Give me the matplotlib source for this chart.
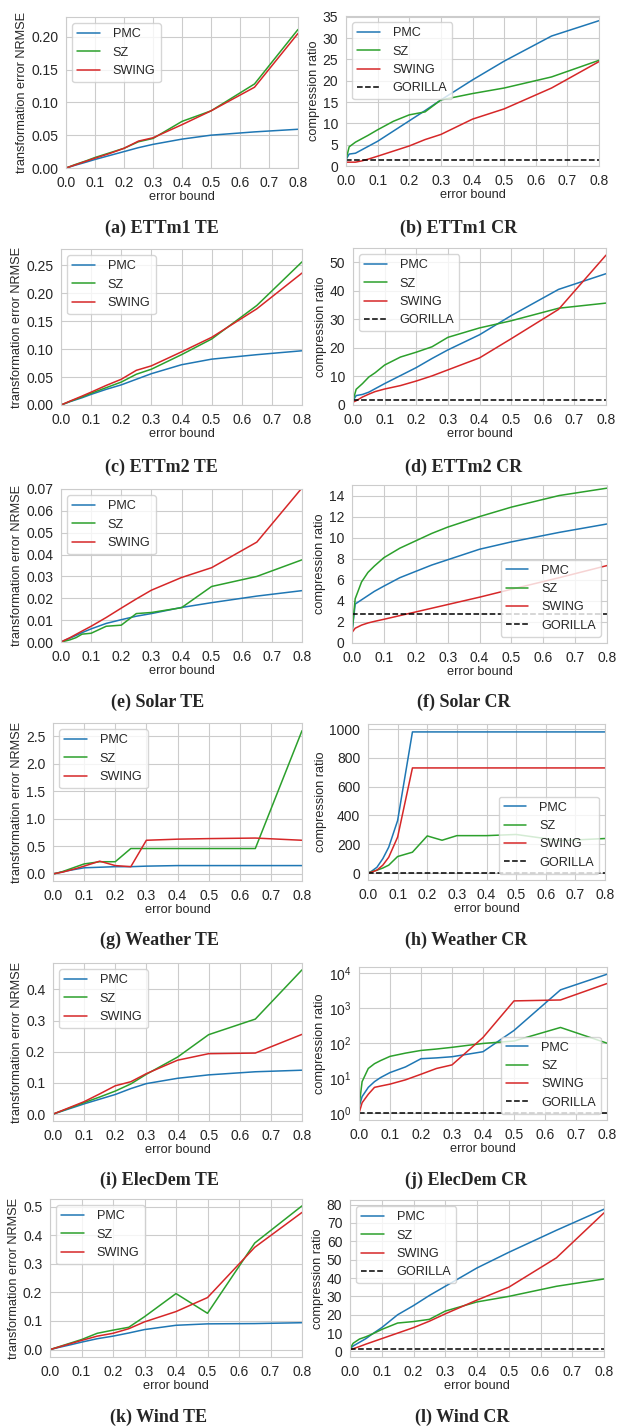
import matplotlib
matplotlib.use("Agg")
import matplotlib.pyplot as plt
import seaborn as sns

sns.set_style("whitegrid")
plt.rcParams['font.family'] = ['Liberation Sans', 'DejaVu Sans']
plt.rcParams['font.size'] = 9.2

# error bounds used in every panel
bounds = [0, 0.01, 0.03, 0.05, 0.07, 0.1, 0.15, 0.2, 0.25, 0.3, 0.4, 0.5, 0.65, 0.8]
xtick_vals = [0.0, 0.1, 0.2, 0.3, 0.4, 0.5, 0.6, 0.7, 0.8]

# (a) ETTm1 TE
pmc_a = [0, 0.0013, 0.004, 0.0065, 0.009, 0.013, 0.019, 0.025, 0.031, 0.036, 0.044, 0.050, 0.055, 0.059]
sz_a = [0, 0.0016, 0.005, 0.008, 0.011, 0.016, 0.023, 0.030, 0.040, 0.045, 0.071, 0.087, 0.128, 0.211]
swing_a = [0, 0.0015, 0.0045, 0.0075, 0.0105, 0.015, 0.022, 0.030, 0.041, 0.046, 0.066, 0.087, 0.123, 0.205]
# (b) ETTm1 CR
pmc_b = [1.5, 2.8, 3.0, 3.8, 4.6, 5.8, 8.2, 10.6, 13.0, 15.5, 20.2, 24.6, 30.5, 34.1]
sz_b = [1.5, 4.5, 5.6, 6.4, 7.2, 8.5, 10.5, 12.0, 12.7, 15.5, 17.0, 18.3, 20.9, 24.8]
swing_b = [0.9, 0.9, 0.9, 1.2, 1.6, 2.3, 3.5, 4.7, 6.2, 7.4, 11.0, 13.4, 18.3, 24.5]
gorilla_b = 1.3
# (c) ETTm2 TE
pmc_c = [0, 0.002, 0.006, 0.0095, 0.013, 0.019, 0.028, 0.036, 0.046, 0.056, 0.072, 0.082, 0.090, 0.097]
sz_c = [0, 0.002, 0.0065, 0.0105, 0.0145, 0.021, 0.031, 0.041, 0.055, 0.064, 0.090, 0.118, 0.178, 0.256]
swing_c = [0, 0.0023, 0.007, 0.0115, 0.016, 0.023, 0.035, 0.046, 0.062, 0.070, 0.095, 0.121, 0.172, 0.236]
# (d) ETTm2 CR
pmc_d = [1.5, 3.3, 3.7, 4.5, 5.7, 7.5, 10.3, 13.1, 16.3, 19.3, 24.6, 31.3, 40.5, 46.0]
sz_d = [1.5, 5.5, 7.5, 9.8, 11.3, 14.0, 16.8, 18.5, 20.4, 23.7, 27.0, 29.5, 33.9, 35.7]
swing_d = [1.0, 1.5, 2.8, 3.8, 4.7, 5.6, 6.8, 8.4, 10.2, 12.3, 16.5, 23.2, 33.5, 52.5]
gorilla_d = 1.8
# (e) Solar TE
pmc_e = [0, 0.0006, 0.0018, 0.003, 0.0043, 0.006, 0.0085, 0.0102, 0.0118, 0.013, 0.0158, 0.018, 0.021, 0.0235]
sz_e = [0, 0.0003, 0.0010, 0.002, 0.0036, 0.0040, 0.0072, 0.0077, 0.013, 0.0135, 0.0157, 0.0254, 0.030, 0.0376]
swing_e = [0, 0.0007, 0.002, 0.0035, 0.005, 0.0072, 0.0112, 0.0155, 0.0197, 0.0237, 0.0295, 0.034, 0.0457, 0.0705]
# (f) Solar CR
pmc_f = [1.0, 3.7, 4.1, 4.5, 4.9, 5.4, 6.2, 6.8, 7.4, 7.9, 8.9, 9.6, 10.5, 11.3]
sz_f = [1.0, 4.2, 5.8, 6.7, 7.3, 8.1, 9.0, 9.7, 10.4, 11.0, 12.0, 12.9, 14.0, 14.7]
swing_f = [1.0, 1.4, 1.7, 1.9, 2.05, 2.25, 2.6, 2.95, 3.3, 3.65, 4.35, 5.1, 6.2, 7.35]
gorilla_f = 2.8
# (g) Weather TE
pmc_g = [0, 0.01, 0.035, 0.06, 0.08, 0.11, 0.12, 0.13, 0.13, 0.14, 0.15, 0.15, 0.15, 0.15]
sz_g = [0, 0.01, 0.04, 0.08, 0.12, 0.18, 0.22, 0.22, 0.46, 0.46, 0.46, 0.46, 0.46, 2.6]
swing_g = [0, 0.01, 0.03, 0.06, 0.09, 0.14, 0.23, 0.15, 0.13, 0.61, 0.63, 0.64, 0.65, 0.61]
# (h) Weather CR
pmc_h = [1, 10, 40, 100, 180, 365, 980, 980, 980, 980, 980, 980, 980, 980]
sz_h = [1, 8, 20, 35, 55, 115, 145, 258, 228, 260, 260, 268, 225, 240]
swing_h = [1, 5, 20, 55, 110, 250, 730, 730, 730, 730, 730, 730, 730, 730]
gorilla_h = 1.5
# (i) ElecDem TE
pmc_i = [0, 0.0033, 0.01, 0.0165, 0.023, 0.033, 0.048, 0.063, 0.082, 0.098, 0.115, 0.126, 0.136, 0.141]
sz_i = [0, 0.0037, 0.011, 0.0185, 0.026, 0.037, 0.055, 0.074, 0.097, 0.128, 0.183, 0.255, 0.305, 0.463]
swing_i = [0, 0.004, 0.012, 0.02, 0.028, 0.040, 0.065, 0.091, 0.104, 0.130, 0.173, 0.194, 0.196, 0.256]
# (j) ElecDem CR (log)
pmc_j = [1.5, 3, 5.5, 8, 10.5, 14.5, 21, 36, 38, 41, 57, 230, 3300, 9200]
sz_j = [1.5, 8, 19, 26, 32, 42, 52, 62, 68, 76, 98, 115, 280, 100]
swing_j = [1, 2, 3.5, 5.5, 6, 6.8, 9, 13, 19, 24, 145, 1600, 1700, 5000]
gorilla_j = 1.05
# (k) Wind TE
pmc_k = [0, 0.0026, 0.008, 0.013, 0.018, 0.026, 0.038, 0.047, 0.058, 0.070, 0.085, 0.090, 0.091, 0.094]
sz_k = [0, 0.0035, 0.0105, 0.0175, 0.0245, 0.035, 0.057, 0.068, 0.078, 0.115, 0.196, 0.127, 0.373, 0.503]
swing_k = [0, 0.0032, 0.0096, 0.016, 0.0224, 0.032, 0.047, 0.057, 0.073, 0.097, 0.133, 0.182, 0.358, 0.480]
# (l) Wind CR
pmc_l = [1.5, 3, 5, 7, 9.5, 13, 20, 25, 30.5, 35.5, 45.5, 54, 66, 77.5]
sz_l = [1.5, 4.5, 6.8, 8, 9.5, 12, 15.5, 16.3, 17.5, 22, 27, 30, 35.5, 39.5]
swing_l = [1.0, 1.5, 2.7, 4, 5.2, 7, 10, 13, 16.5, 20.5, 28, 35, 51, 75.5]
gorilla_l = 1.6

captions = ["(a) ETTm1 TE", "(b) ETTm1 CR", "(c) ETTm2 TE", "(d) ETTm2 CR",
            "(e) Solar TE", "(f) Solar CR", "(g) Weather TE", "(h) Weather CR",
            "(i) ElecDem TE", "(j) ElecDem CR", "(k) Wind TE", "(l) Wind CR"]

W, H = 619, 1427
fig = plt.figure(figsize=(W / 100, H / 100), dpi=100)


def panel(box, cap_xy, cap, pmc, sz, swing, gorilla, ylim, yticks, yfmt, loc, log=False):
    l, r, t, b = box
    ax = fig.add_axes([l / W, 1 - b / H, (r - l) / W, (b - t) / H])
    ax.plot(bounds, pmc, color='tab:blue', lw=1.1, label='PMC')
    ax.plot(bounds, sz, color='tab:green', lw=1.1, label='SZ')
    ax.plot(bounds, swing, color='tab:red', lw=1.1, label='SWING')
    if gorilla is not None:
        ax.plot(bounds, [gorilla] * len(bounds), color='black', ls='--', lw=1.1, label='GORILLA')
        ax.set_ylabel('compression ratio', labelpad=2)
    else:
        ax.set_ylabel('transformation error NRMSE', labelpad=2)
    if log:
        ax.set_yscale('log')
        ax.set_ylim(ylim)
        ax.set_yticks(yticks)
        ax.minorticks_off()
    else:
        ax.set_ylim(ylim)
        ax.set_yticks(yticks)
        ax.set_yticklabels([yfmt % v for v in yticks])
    ax.set_xlim(0, 0.8)
    ax.set_xticks(xtick_vals)
    ax.set_xticklabels(['%.1f' % v for v in xtick_vals])
    ax.set_xlabel('error bound', labelpad=1)
    ax.tick_params(axis='both', pad=2, labelsize=10)
    ax.legend(loc=loc, fontsize=9.1, handlelength=1.8, handletextpad=1.0)
    fig.text(cap_xy[0] / W, 1 - cap_xy[1] / H, cap, ha='center', va='center',
             family=['Liberation Serif', 'DejaVu Serif'], weight='bold', fontsize=13)
    return ax


panel((66, 298, 17, 168), (162, 228), captions[0], pmc_a, sz_a, swing_a, None,
      (0, 0.23), [0, 0.05, 0.10, 0.15, 0.20], '%.2f', 'upper left')
panel((346, 599, 16, 166), (459, 228), captions[1], pmc_b, sz_b, swing_b, gorilla_b,
      (0, 35.2), [0, 5, 10, 15, 20, 25, 30, 35], '%d', 'upper left')
panel((61, 302, 249, 405), (161, 467), captions[2], pmc_c, sz_c, swing_c, None,
      (0, 0.279), [0, 0.05, 0.10, 0.15, 0.20, 0.25], '%.2f', 'upper left')
panel((353, 606, 248, 405), (464, 467), captions[3], pmc_d, sz_d, swing_d, gorilla_d,
      (0, 55), [0, 10, 20, 30, 40, 50], '%d', 'upper left')
panel((61, 302, 489, 642), (158, 702), captions[4], pmc_e, sz_e, swing_e, None,
      (0, 0.07), [0, 0.01, 0.02, 0.03, 0.04, 0.05, 0.06, 0.07], '%.2f', 'upper left')
panel((352, 607, 485, 643), (464, 702), captions[5], pmc_f, sz_f, swing_f, gorilla_f,
      (0, 15), [0, 2, 4, 6, 8, 10, 12, 14], '%d', 'lower right')
panel((53, 302, 723, 881), (160, 940), captions[6], pmc_g, sz_g, swing_g, None,
      (-0.13, 2.74), [0, 0.5, 1.0, 1.5, 2.0, 2.5], '%.1f', 'upper left')
panel((368, 605, 724, 880), (466, 940), captions[7], pmc_h, sz_h, swing_h, gorilla_h,
      (-48, 1035), [0, 200, 400, 600, 800, 1000], '%d', 'lower right')
panel((53, 302, 963, 1121), (160, 1180), captions[8], pmc_i, sz_i, swing_i, None,
      (-0.022, 0.485), [0, 0.1, 0.2, 0.3, 0.4], '%.1f', 'upper left')
panel((359, 607, 967, 1120), (466, 1180), captions[9], pmc_j, sz_j, swing_j, gorilla_j,
      (10 ** -0.19, 10 ** 4.17), [1, 10, 100, 1000, 10000], None, 'lower right', log=True)
panel((50, 302, 1199, 1357), (159, 1417), captions[10], pmc_k, sz_k, swing_k, None,
      (-0.026, 0.527), [0, 0.1, 0.2, 0.3, 0.4, 0.5], '%.1f', 'upper left')
panel((350, 604, 1200, 1357), (462, 1417), captions[11], pmc_l, sz_l, swing_l, gorilla_l,
      (-3, 82.5), [0, 10, 20, 30, 40, 50, 60, 70, 80], '%d', 'upper left')

fig.savefig('out.png', dpi=100)
